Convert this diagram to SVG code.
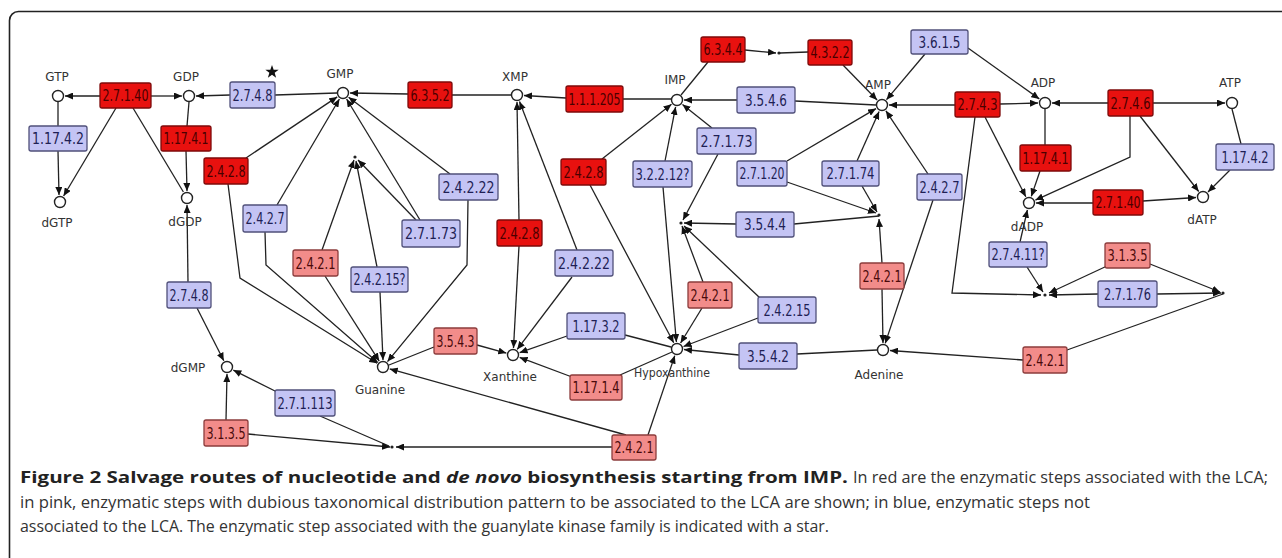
<svg xmlns="http://www.w3.org/2000/svg" width="1282" height="558" viewBox="0 0 1282 558">
<style>
.bx rect{stroke-width:1.3}
.r rect{fill:#e8110f;stroke:#7d0a0a}
.p rect{fill:#f28c8a;stroke:#8c3c3c}
.b rect{fill:#c4c4f4;stroke:#50507a}
.bx text{font-family:"DejaVu Sans","Liberation Sans",sans-serif;font-size:15px;text-anchor:middle}
.r text{fill:#4a0000}
.p text{fill:#4a0a0a}
.b text{fill:#1f1f55}
.m circle{fill:#fff;stroke:#222;stroke-width:1.4}
.m text{font-family:"DejaVu Sans","Liberation Sans",sans-serif;font-size:12px;fill:#333;text-anchor:middle}
#conn path{fill:none;stroke:#222;stroke-width:1.3}
.ah{marker-end:url(#a)}
.j{fill:#222}
.cap{font-family:"Open Sans","Liberation Sans",sans-serif;font-size:16.5px}
</style>
<defs>
<marker id="a" viewBox="0 0 8 7" refX="8" refY="3.5" markerWidth="8" markerHeight="7" markerUnits="userSpaceOnUse" orient="auto"><path d="M0,0 L8,3.5 L0,7 z" fill="#111"/></marker>
</defs>
<rect x="9.5" y="11.5" width="1300" height="570" rx="9" fill="#fff" stroke="#222" stroke-width="1.6"/>

<g id="conn">
<path class="ah" d="M100,96 L65,96"/>
<path class="ah" d="M151,96 L182,96"/>
<path class="ah" d="M116,108 L63.6,196"/>
<path d="M133,108 L183.4,192"/>
<path d="M58,102 L58,126"/>
<path class="ah" d="M58,151 L59,195"/>
<path d="M189,102 L187,126"/>
<path class="ah" d="M186,151 L187,191"/>
<path d="M337,93 L275,95"/>
<path class="ah" d="M230,95 L196,96"/>
<path class="ah" d="M188,282 L187,205"/>
<path class="ah" d="M197,308 L223.8,360.7"/>
<path class="ah" d="M226,420 L227,374"/>
<path class="ah" d="M277,392 L233.3,370.1"/>
<path d="M320,416 L389,446"/>
<path class="ah" d="M248,434 L390,447"/>
<path class="ah" d="M612,447 L396,447"/>
<path class="ah" d="M626,435 L389.7,368.9"/>
<path class="ah" d="M648,435 L674.8,355.6"/>
<path class="ah" d="M246,158 L337.2,96.9"/>
<path class="ah" d="M228,184 L240,278 L377.1,363.3"/>
<path class="ah" d="M277,205 L339.4,99"/>
<path class="ah" d="M265,232 L266,265 L377.7,362.4"/>
<path class="ah" d="M322,250 L354,160"/>
<path class="ah" d="M325,276 L379.2,361.1"/>
<path class="ah" d="M377,267 L356,161"/>
<path class="ah" d="M380,292 L383,360"/>
<path class="ah" d="M420,220 L346.6,99"/>
<path class="ah" d="M416,220 L358,160"/>
<path class="ah" d="M450,174 L348.6,97.2"/>
<path class="ah" d="M468,200 L467,265 L387.5,361.6"/>
<path d="M511,95 L452,95"/>
<path class="ah" d="M408,94 L350,93"/>
<path d="M389,365 L434,347"/>
<path class="ah" d="M477,345 L506.3,353.1"/>
<path d="M671,99 L623,99"/>
<path class="ah" d="M566,98 L524,95.5"/>
<path class="ah" d="M519,220 L517,102"/>
<path class="ah" d="M519,246 L513.5,348"/>
<path class="ah" d="M577,250 L519.5,101.5"/>
<path class="ah" d="M572,277 L517.2,349.4"/>
<path d="M671,347 L625,335"/>
<path class="ah" d="M567,336 L519.6,352.7"/>
<path d="M672,352 L620,375"/>
<path class="ah" d="M572,377 L519.6,357.4"/>
<path class="ah" d="M602,159 L671.5,104.3"/>
<path class="ah" d="M590,185 L673.7,342.8"/>
<path class="ah" d="M665,161 L675.6,106.9"/>
<path class="ah" d="M663,187 L676.4,342"/>
<path class="ah" d="M712,128 L682.5,104.4"/>
<path class="ah" d="M718,154 L683,220"/>
<path d="M876,105 L795,101"/>
<path class="ah" d="M737,100 L684,100"/>
<path d="M708,62 L681,95"/>
<path class="ah" d="M745,50 L776,53"/>
<path d="M780,53 L808,52"/>
<path class="ah" d="M843,65 L877.1,100"/>
<path class="ah" d="M925,54 L886.5,99.7"/>
<path class="ah" d="M968,48 L1039.3,98.9"/>
<path class="ah" d="M955,105 L889,105"/>
<path class="ah" d="M1000,104 L1038,103"/>
<path class="ah" d="M985,117 L1025.8,196.8"/>
<path class="ah" d="M975,117 L952,293 L1041,295"/>
<path class="ah" d="M787,161 L876,108.6"/>
<path class="ah" d="M787,182 L876,213"/>
<path class="ah" d="M857,161 L879.1,111.4"/>
<path class="ah" d="M862,186 L877,212"/>
<path class="ah" d="M928,174 L885.9,110.8"/>
<path class="ah" d="M933,200 L885.2,343.4"/>
<path d="M794,224 L879,216"/>
<path class="ah" d="M736,224 L684,223"/>
<path class="ah" d="M703,282 L682,226"/>
<path class="ah" d="M760,298 L684,226"/>
<path class="ah" d="M702,308 L680.6,343"/>
<path class="ah" d="M758,318 L683.5,346.5"/>
<path d="M877,350 L797,354"/>
<path class="ah" d="M739,355 L684,349.5"/>
<path class="ah" d="M882,263 L879,219"/>
<path class="ah" d="M882,289 L883,343"/>
<path class="ah" d="M1023,360 L890,350.5"/>
<path d="M1067,350 L1223,294"/>
<path class="ah" d="M1108,103 L1052,103"/>
<path class="ah" d="M1153,103 L1225,103"/>
<path class="ah" d="M1130,116 L1130,157 L1035.4,200.1"/>
<path class="ah" d="M1140,116 L1198.7,191.5"/>
<path d="M1045,109 L1045,145"/>
<path class="ah" d="M1040,171 L1031.3,196.4"/>
<path d="M1232,109 L1241,144"/>
<path class="ah" d="M1230,170 L1208,192"/>
<path class="ah" d="M1093,203 L1036,203"/>
<path class="ah" d="M1143,201 L1196,197.5"/>
<path class="ah" d="M1020,242 L1027.4,209.8"/>
<path class="ah" d="M1027,267 L1043,292"/>
<path class="ah" d="M1107,266 L1049,293"/>
<path class="ah" d="M1098,294 L1049,295"/>
<path class="ah" d="M1157,294 L1221,293"/>
<path class="ah" d="M1150,264 L1220,292"/>
<circle class="j" cx="392" cy="447" r="1.6"/>
<circle class="j" cx="355" cy="157" r="1.6"/>
<circle class="j" cx="681" cy="223" r="1.6"/>
<circle class="j" cx="779" cy="53" r="1.6"/>
<circle class="j" cx="879" cy="215" r="1.6"/>
<circle class="j" cx="1045" cy="295" r="1.6"/>
<circle class="j" cx="1223" cy="293" r="1.6"/>
</g>

<g id="star"><polygon points="272,65 273.65,69.73 278.66,69.84 274.66,72.87 276.11,77.66 272,74.8 267.89,77.66 269.34,72.87 265.34,69.84 270.35,69.73" fill="#111"/></g>

<g id="GTP" class="m"><circle cx="58" cy="96" r="5.5"/><text x="57" y="81">GTP</text></g>
<g id="GDP" class="m"><circle cx="189" cy="96" r="5.5"/><text x="186" y="81">GDP</text></g>
<g id="GMP" class="m"><circle cx="343" cy="93" r="5.5"/><text x="340" y="78">GMP</text></g>
<g id="XMP" class="m"><circle cx="517" cy="95" r="5.5"/><text x="515" y="81">XMP</text></g>
<g id="IMP" class="m"><circle cx="677" cy="100" r="5.5"/><text x="675" y="84">IMP</text></g>
<g id="AMP" class="m"><circle cx="882" cy="105" r="5.5"/><text x="878" y="89">AMP</text></g>
<g id="ADP" class="m"><circle cx="1045" cy="103" r="5.5"/><text x="1043" y="87">ADP</text></g>
<g id="ATP" class="m"><circle cx="1232" cy="103" r="5.5"/><text x="1230" y="87">ATP</text></g>
<g id="dGTP" class="m"><circle cx="60" cy="202" r="5.5"/><text x="57" y="227">dGTP</text></g>
<g id="dGDP" class="m"><circle cx="187" cy="198" r="5.5"/><text x="185" y="226">dGDP</text></g>
<g id="dADP" class="m"><circle cx="1029" cy="203" r="5.5"/><text x="1027" y="231">dADP</text></g>
<g id="dATP" class="m"><circle cx="1203" cy="197" r="5.5"/><text x="1202" y="224">dATP</text></g>
<g id="dGMP" class="m"><circle cx="227" cy="367" r="5.5"/><text x="188" y="372">dGMP</text></g>
<g id="Guanine" class="m"><circle cx="383" cy="367" r="5.5"/><text x="380" y="394">Guanine</text></g>
<g id="Xanthine" class="m"><circle cx="513" cy="355" r="5.5"/><text x="510" y="381">Xanthine</text></g>
<g id="Hypoxanthine" class="m"><circle cx="677" cy="349" r="5.5"/><text x="672" y="377" textLength="76" lengthAdjust="spacingAndGlyphs">Hypoxanthine</text></g>
<g id="Adenine" class="m"><circle cx="883" cy="350" r="5.5"/><text x="879" y="379">Adenine</text></g>

<g id="e2.7.1.40a" class="bx r"><rect x="100" y="83" width="51" height="25" rx="2"/><text x="125.5" y="101" textLength="46" lengthAdjust="spacingAndGlyphs">2.7.1.40</text></g>
<g id="e1.17.4.1a" class="bx r"><rect x="161" y="126" width="50" height="25" rx="2"/><text x="186" y="144" textLength="45" lengthAdjust="spacingAndGlyphs">1.17.4.1</text></g>
<g id="e2.4.2.8a" class="bx r"><rect x="204" y="158" width="44" height="26" rx="2"/><text x="226" y="176.5" textLength="39" lengthAdjust="spacingAndGlyphs">2.4.2.8</text></g>
<g id="e6.3.5.2" class="bx r"><rect x="408" y="82" width="44" height="26" rx="2"/><text x="430" y="100.5" textLength="39" lengthAdjust="spacingAndGlyphs">6.3.5.2</text></g>
<g id="e1.1.1.205" class="bx r"><rect x="566" y="86" width="57" height="26" rx="2"/><text x="594.5" y="104.5" textLength="52" lengthAdjust="spacingAndGlyphs">1.1.1.205</text></g>
<g id="e2.4.2.8b" class="bx r"><rect x="561" y="159" width="45" height="26" rx="2"/><text x="583.5" y="177.5" textLength="40" lengthAdjust="spacingAndGlyphs">2.4.2.8</text></g>
<g id="e2.4.2.8c" class="bx r"><rect x="497" y="220" width="45" height="26" rx="2"/><text x="519.5" y="238.5" textLength="40" lengthAdjust="spacingAndGlyphs">2.4.2.8</text></g>
<g id="e6.3.4.4" class="bx r"><rect x="701" y="37" width="44" height="25" rx="2"/><text x="723" y="55" textLength="39" lengthAdjust="spacingAndGlyphs">6.3.4.4</text></g>
<g id="e4.3.2.2" class="bx r"><rect x="808" y="40" width="44" height="25" rx="2"/><text x="830" y="58" textLength="39" lengthAdjust="spacingAndGlyphs">4.3.2.2</text></g>
<g id="e2.7.4.3" class="bx r"><rect x="955" y="92" width="45" height="25" rx="2"/><text x="977.5" y="110" textLength="40" lengthAdjust="spacingAndGlyphs">2.7.4.3</text></g>
<g id="e2.7.4.6" class="bx r"><rect x="1108" y="90" width="45" height="26" rx="2"/><text x="1130.5" y="108.5" textLength="40" lengthAdjust="spacingAndGlyphs">2.7.4.6</text></g>
<g id="e1.17.4.1b" class="bx r"><rect x="1020" y="145" width="51" height="26" rx="2"/><text x="1045.5" y="163.5" textLength="46" lengthAdjust="spacingAndGlyphs">1.17.4.1</text></g>
<g id="e2.7.1.40b" class="bx r"><rect x="1093" y="190" width="50" height="25" rx="2"/><text x="1118" y="208" textLength="45" lengthAdjust="spacingAndGlyphs">2.7.1.40</text></g>

<g id="e2.4.2.1a" class="bx p"><rect x="293" y="250" width="45" height="26" rx="2"/><text x="315.5" y="268.5" textLength="40" lengthAdjust="spacingAndGlyphs">2.4.2.1</text></g>
<g id="e3.5.4.3" class="bx p"><rect x="434" y="328" width="43" height="26" rx="2"/><text x="455.5" y="346.5" textLength="38" lengthAdjust="spacingAndGlyphs">3.5.4.3</text></g>
<g id="e1.17.1.4" class="bx p"><rect x="570" y="375" width="52" height="25" rx="2"/><text x="596" y="393" textLength="47" lengthAdjust="spacingAndGlyphs">1.17.1.4</text></g>
<g id="e2.4.2.1b" class="bx p"><rect x="612" y="435" width="44" height="25" rx="2"/><text x="634" y="453" textLength="39" lengthAdjust="spacingAndGlyphs">2.4.2.1</text></g>
<g id="e3.1.3.5a" class="bx p"><rect x="204" y="420" width="44" height="26" rx="2"/><text x="226" y="438.5" textLength="39" lengthAdjust="spacingAndGlyphs">3.1.3.5</text></g>
<g id="e2.4.2.1c" class="bx p"><rect x="688" y="282" width="44" height="26" rx="2"/><text x="710" y="300.5" textLength="39" lengthAdjust="spacingAndGlyphs">2.4.2.1</text></g>
<g id="e2.4.2.1d" class="bx p"><rect x="860" y="263" width="44" height="26" rx="2"/><text x="882" y="281.5" textLength="39" lengthAdjust="spacingAndGlyphs">2.4.2.1</text></g>
<g id="e3.1.3.5b" class="bx p"><rect x="1105" y="243" width="45" height="25" rx="2"/><text x="1127.5" y="261" textLength="40" lengthAdjust="spacingAndGlyphs">3.1.3.5</text></g>
<g id="e2.4.2.1e" class="bx p"><rect x="1023" y="347" width="44" height="26" rx="2"/><text x="1045" y="365.5" textLength="39" lengthAdjust="spacingAndGlyphs">2.4.2.1</text></g>

<g id="e1.17.4.2a" class="bx b"><rect x="29" y="126" width="58" height="25" rx="2"/><text x="58" y="144" textLength="52" lengthAdjust="spacingAndGlyphs">1.17.4.2</text></g>
<g id="e2.7.4.8a" class="bx b"><rect x="230" y="82" width="45" height="26" rx="2"/><text x="252.5" y="100.5" textLength="40" lengthAdjust="spacingAndGlyphs">2.7.4.8</text></g>
<g id="e2.4.2.7a" class="bx b"><rect x="243" y="205" width="44" height="27" rx="2"/><text x="265" y="224" textLength="39" lengthAdjust="spacingAndGlyphs">2.4.2.7</text></g>
<g id="e2.4.2.22a" class="bx b"><rect x="439" y="174" width="59" height="26" rx="2"/><text x="468.5" y="192.5" textLength="52" lengthAdjust="spacingAndGlyphs">2.4.2.22</text></g>
<g id="e2.7.1.73a" class="bx b"><rect x="402" y="220" width="58" height="27" rx="2"/><text x="431" y="239" textLength="52" lengthAdjust="spacingAndGlyphs">2.7.1.73</text></g>
<g id="e2.4.2.15q" class="bx b"><rect x="351" y="267" width="57" height="25" rx="2"/><text x="379.5" y="285" textLength="52" lengthAdjust="spacingAndGlyphs">2.4.2.15?</text></g>
<g id="e2.4.2.22b" class="bx b"><rect x="555" y="250" width="58" height="26" rx="2"/><text x="584" y="268.5" textLength="52" lengthAdjust="spacingAndGlyphs">2.4.2.22</text></g>
<g id="e3.2.2.12q" class="bx b"><rect x="633" y="161" width="59" height="26" rx="2"/><text x="662.5" y="179.5" textLength="54" lengthAdjust="spacingAndGlyphs">3.2.2.12?</text></g>
<g id="e2.7.1.73b" class="bx b"><rect x="697" y="128" width="59" height="26" rx="2"/><text x="726.5" y="146.5" textLength="52" lengthAdjust="spacingAndGlyphs">2.7.1.73</text></g>
<g id="e3.5.4.6" class="bx b"><rect x="737" y="87" width="58" height="26" rx="2"/><text x="766" y="105.5" textLength="42" lengthAdjust="spacingAndGlyphs">3.5.4.6</text></g>
<g id="e3.6.1.5" class="bx b"><rect x="911" y="30" width="57" height="24" rx="2"/><text x="939.5" y="47.5" textLength="42" lengthAdjust="spacingAndGlyphs">3.6.1.5</text></g>
<g id="e2.7.1.20" class="bx b"><rect x="737" y="161" width="50" height="25" rx="2"/><text x="762" y="179" textLength="45" lengthAdjust="spacingAndGlyphs">2.7.1.20</text></g>
<g id="e2.7.1.74" class="bx b"><rect x="822" y="161" width="57" height="25" rx="2"/><text x="850.5" y="179" textLength="48" lengthAdjust="spacingAndGlyphs">2.7.1.74</text></g>
<g id="e2.4.2.7b" class="bx b"><rect x="917" y="174" width="45" height="26" rx="2"/><text x="939.5" y="192.5" textLength="40" lengthAdjust="spacingAndGlyphs">2.4.2.7</text></g>
<g id="e3.5.4.4" class="bx b"><rect x="736" y="212" width="58" height="25" rx="2"/><text x="765" y="230" textLength="42" lengthAdjust="spacingAndGlyphs">3.5.4.4</text></g>
<g id="e1.17.3.2" class="bx b"><rect x="567" y="313" width="58" height="26" rx="2"/><text x="596" y="331.5" textLength="47" lengthAdjust="spacingAndGlyphs">1.17.3.2</text></g>
<g id="e2.4.2.15" class="bx b"><rect x="758" y="297" width="58" height="26" rx="2"/><text x="787" y="315.5" textLength="47" lengthAdjust="spacingAndGlyphs">2.4.2.15</text></g>
<g id="e3.5.4.2" class="bx b"><rect x="739" y="343" width="58" height="26" rx="2"/><text x="768" y="361.5" textLength="42" lengthAdjust="spacingAndGlyphs">3.5.4.2</text></g>
<g id="e1.17.4.2b" class="bx b"><rect x="1216" y="144" width="58" height="26" rx="2"/><text x="1245" y="162.5" textLength="47" lengthAdjust="spacingAndGlyphs">1.17.4.2</text></g>
<g id="e2.7.4.11q" class="bx b"><rect x="989" y="242" width="58" height="25" rx="2"/><text x="1018" y="260" textLength="53" lengthAdjust="spacingAndGlyphs">2.7.4.11?</text></g>
<g id="e2.7.1.76" class="bx b"><rect x="1098" y="281" width="59" height="26" rx="2"/><text x="1127.5" y="299.5" textLength="47" lengthAdjust="spacingAndGlyphs">2.7.1.76</text></g>
<g id="e2.7.4.8b" class="bx b"><rect x="167" y="282" width="44" height="26" rx="2"/><text x="189" y="300.5" textLength="39" lengthAdjust="spacingAndGlyphs">2.7.4.8</text></g>
<g id="e2.7.1.113" class="bx b"><rect x="275" y="390" width="60" height="26" rx="2"/><text x="305" y="408.5" textLength="55" lengthAdjust="spacingAndGlyphs">2.7.1.113</text></g>

<g id="caption" class="cap">
<text x="20" y="483" font-weight="bold" fill="#222" textLength="828" lengthAdjust="spacingAndGlyphs">Figure 2 Salvage routes of nucleotide and <tspan font-style="italic">de novo</tspan> biosynthesis starting from IMP.</text>
<text x="853" y="483" fill="#333" textLength="415" lengthAdjust="spacingAndGlyphs">In red are the enzymatic steps associated with the LCA;</text>
<text x="20" y="508" fill="#333" textLength="1070" lengthAdjust="spacingAndGlyphs">in pink, enzymatic steps with dubious taxonomical distribution pattern to be associated to the LCA are shown; in blue, enzymatic steps not</text>
<text x="20" y="532" fill="#333" textLength="809" lengthAdjust="spacingAndGlyphs">associated to the LCA. The enzymatic step associated with the guanylate kinase family is indicated with a star.</text>
</g>
</svg>
